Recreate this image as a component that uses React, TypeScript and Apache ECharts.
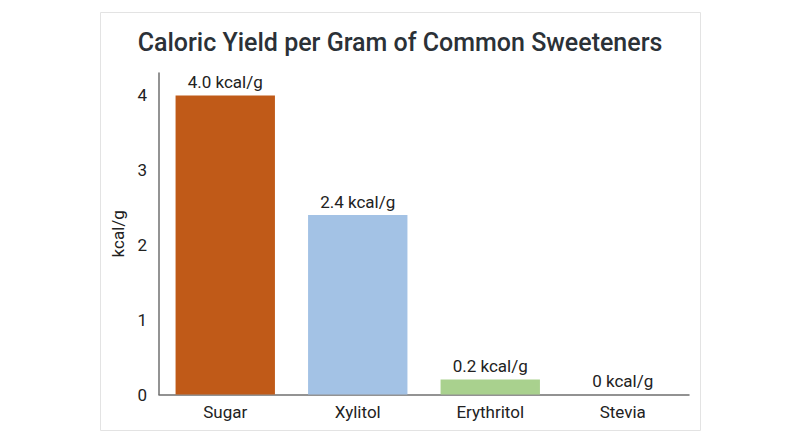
import React, { useEffect, useRef } from "react";
import * as echarts from "echarts";

const categories = ["Sugar", "Xylitol", "Erythritol", "Stevia"];
const values = [4.0, 2.4, 0.2, 0];
const valueLabels = ["4.0 kcal/g", "2.4 kcal/g", "0.2 kcal/g", "0 kcal/g"];
const barColors = ["#C05A18", "#A3C2E5", "#A9D18E", "#C9C9C9"];
const yTicks = [0, 1, 2, 3, 4];

export default function App() {
  const ref = useRef<HTMLDivElement>(null);
  useEffect(() => {
    if (!ref.current) return;
    const chart = echarts.init(ref.current, undefined, { renderer: "svg" });
    chart.setOption({
      animation: false,
      backgroundColor: "#ffffff",
      textStyle: { fontFamily: "Roboto" },
      graphic: [
        {
          type: "rect",
          shape: { x: 100.5, y: 12.5, width: 600, height: 418 },
          style: { fill: "none", stroke: "#e3e3e3", lineWidth: 1 },
          silent: true,
        },
      ],
      title: {
        text: "Caloric Yield per Gram of Common Sweeteners",
        left: "center",
        top: 25,
        textStyle: {
          fontFamily: "Roboto",
          fontSize: 25,
          fontWeight: 500,
          color: "#2b3137",
        },
      },
      grid: { left: 159, right: 111, top: 73, bottom: 52.5, containLabel: false },
      xAxis: {
        type: "category",
        data: categories,
        axisLine: { lineStyle: { color: "#6f6f6f", width: 1.5 } },
        axisTick: { show: false },
        axisLabel: { fontSize: 17, color: "#222", margin: 9, fontFamily: "Roboto" },
      },
      yAxis: {
        type: "value",
        min: 0,
        max: 4.3,
        interval: 1,
        name: "kcal/g",
        nameLocation: "middle",
        nameGap: 32,
        nameTextStyle: { fontSize: 17, color: "#222", fontFamily: "Roboto" },
        axisLine: { show: true, lineStyle: { color: "#6f6f6f", width: 1.5 } },
        axisTick: { show: false },
        splitLine: { show: false },
        axisLabel: {
          fontSize: 17,
          color: "#222",
          margin: 12,
          fontFamily: "Roboto",
          formatter: (v: number) => (yTicks.indexOf(v) >= 0 ? String(v) : ""),
        },
      },
      series: [
        {
          type: "bar",
          barCategoryGap: "25%",
          data: values.map((v, i) => ({
            value: v,
            itemStyle: { color: barColors[i] },
          })),
          label: {
            show: true,
            position: "top",
            distance: 5,
            fontSize: 17,
            color: "#222",
            fontFamily: "Roboto",
            formatter: (p: any) => valueLabels[p.dataIndex],
          },
        },
      ],
    });
    return () => chart.dispose();
  }, []);
  return (
    <div
      ref={ref}
      style={{ position: "fixed", left: 0, top: 0, width: 800, height: 447 }}
    />
  );
}
